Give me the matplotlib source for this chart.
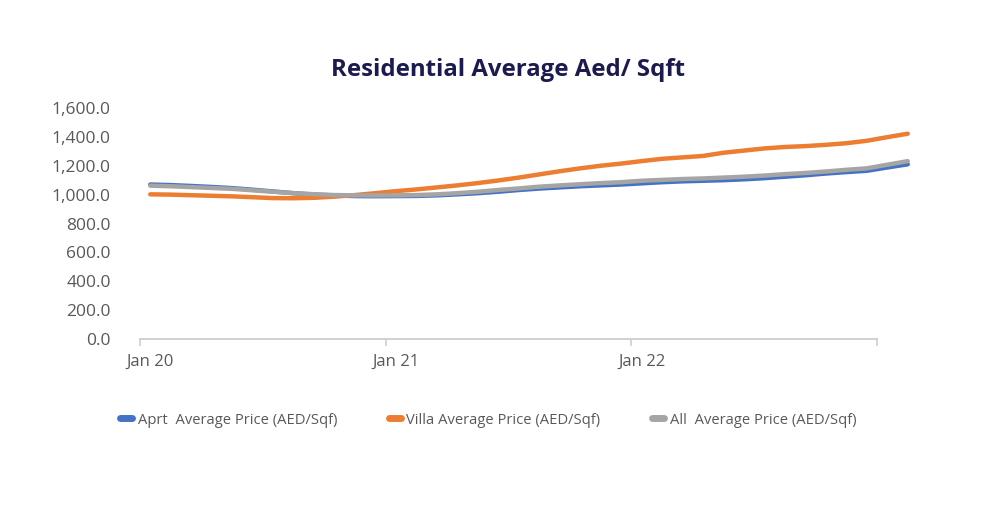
import numpy as np
import matplotlib.pyplot as plt


# monthly values, Jan 20 .. Feb 23
months = np.arange(38)
aprt = [1070, 1066, 1060, 1053, 1045, 1034, 1022, 1010, 1000, 994,
        990, 989, 990, 991, 995, 1002, 1010, 1020, 1032, 1042,
        1050, 1058, 1064, 1070, 1078, 1086, 1092, 1096, 1100, 1106,
        1114, 1124, 1134, 1146, 1156, 1165, 1188, 1210]
villa = [1002, 1000, 996, 992, 988, 982, 976, 975, 978, 986,
         997, 1010, 1024, 1036, 1050, 1064, 1080, 1098, 1118, 1140,
         1162, 1182, 1200, 1215, 1232, 1248, 1258, 1268, 1290, 1305,
         1320, 1330, 1336, 1345, 1356, 1373, 1398, 1422]
all_ = [1062, 1058, 1052, 1046, 1040, 1030, 1020, 1010, 1003, 997,
        995, 994, 995, 997, 1002, 1010, 1020, 1032, 1043, 1055,
        1064, 1072, 1080, 1086, 1096, 1102, 1108, 1112, 1118, 1124,
        1132, 1142, 1150, 1160, 1172, 1182, 1207, 1232]
tick_pos = [0, 12, 24]
tick_labels = ['Jan 20', 'Jan 21', 'Jan 22']
labels = ['Aprt  Average Price (AED/Sqf)', 'Villa Average Price (AED/Sqf)',
          'All  Average Price (AED/Sqf)']
colors = ['#4472C4', '#ED7D31', '#A5A5A5']

plt.rcParams['font.family'] = ['Open Sans', 'DejaVu Sans']

fig = plt.figure(figsize=(10, 5.25), dpi=100)
ax = fig.add_axes([0.140, 1 - 339 / 525, 0.918 - 0.140, (339 - 108) / 525])

for y, c, lab in zip([aprt, villa, all_], colors, labels):
    ax.plot(months, y, color=c, lw=3.2, label=lab, solid_capstyle='round',
            clip_on=False)

ax.set_xlim(-0.5, 37.5)
ax.set_ylim(0, 1600)
ax.set_yticks(np.arange(0, 1601, 200))
ax.yaxis.set_major_formatter(plt.FuncFormatter(lambda v, p: f'{v:,.1f}'))
ax.tick_params(axis='y', length=0, pad=21, labelsize=12.5, labelcolor='#595959')

ax.set_xticks(tick_pos)
ax.set_xticklabels(tick_labels)
ax.set_xticks([-0.5, 11.5, 23.5, 35.5], minor=True)
ax.tick_params(axis='x', which='major', length=0, pad=11, labelsize=12,
               labelcolor='#595959')
ax.tick_params(axis='x', which='minor', length=5, width=1.2, color='#D0D0D0')

for s in ['top', 'right', 'left']:
    ax.spines[s].set_visible(False)
ax.spines['bottom'].set_color('#D0D0D0')
ax.spines['bottom'].set_linewidth(1.4)
ax.spines['bottom'].set_bounds(-0.5, 35.5)

fig.text(0.508, 1 - 70 / 525, 'Residential Average Aed/ Sqft', ha='center',
         va='center', fontsize=17.3, fontweight='bold', color='#1B1B4F')

leg = fig.legend(loc='center left', bbox_to_anchor=(0.114, 1 - 420 / 525),
                 ncol=3, frameon=False, fontsize=10.6, handlelength=0.85,
                 handletextpad=0.35, columnspacing=3.5, borderaxespad=0)
for line in leg.get_lines():
    line.set_linewidth(5)
for t in leg.get_texts():
    t.set_color('#595959')

fig.savefig('out.png', dpi=100)
